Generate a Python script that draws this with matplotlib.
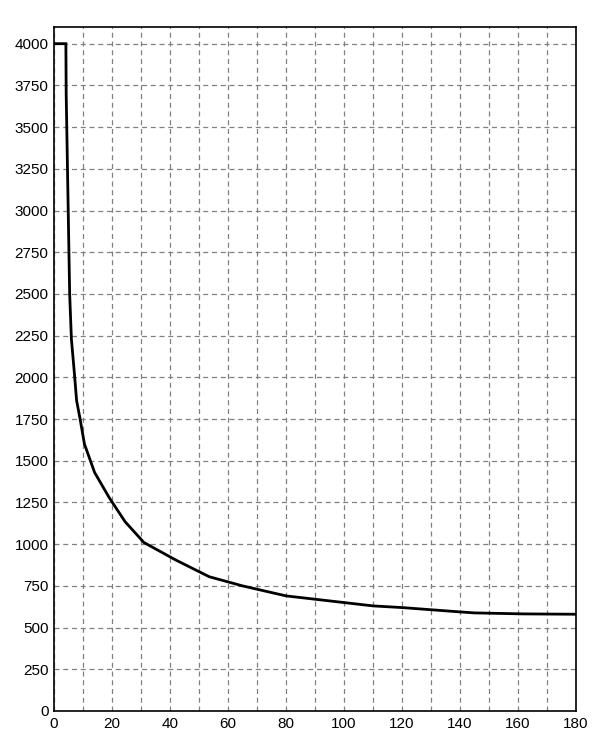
import matplotlib
matplotlib.use("Agg")
import matplotlib.pyplot as plt

x_vals = [0, 4.1, 4.2, 4.8, 5.4, 6.0, 7.0, 7.8, 9.0, 10.5, 14.0, 19.0, 24.5, 31.0,
          42.0, 53.5, 65.0, 80.0, 95.0, 110.0, 120.0, 130.0, 140.0, 145.0, 162.0, 180.0]
y_vals = [4000, 4000, 3700, 3100, 2500, 2230, 2030, 1860, 1750, 1600, 1430, 1280, 1135, 1010,
          905, 805, 750, 690, 660, 630, 620, 607, 594, 588, 582, 580]

x_ticks = [0, 20, 40, 60, 80, 100, 120, 140, 160, 180]
y_ticks = [0, 250, 500, 750, 1000, 1250, 1500, 1750, 2000, 2250, 2500, 2750,
           3000, 3250, 3500, 3750, 4000]

plt.rcParams['font.family'] = ['Liberation Sans', 'DejaVu Sans']
fig = plt.figure(figsize=(6, 7.5), dpi=100)
ax = fig.add_axes([54/600, 39/750, 522/600, 684/750])
ax.plot(x_vals, y_vals, color='black', lw=2.0, solid_joinstyle='miter')
ax.set_xlim(0, 180)
ax.set_ylim(0, 4100)
ax.set_xticks(x_ticks)
ax.set_xticks(range(0, 181, 10), minor=True)
ax.set_yticks(y_ticks)
ax.grid(True, which='both', color='#808080', linestyle=(0, (4, 3)), lw=0.9)
ax.tick_params(which='both', length=0, labelsize=11, pad=4)
for s in ax.spines.values():
    s.set_color('black')
    s.set_linewidth(1.2)
fig.savefig('out.png', dpi=100)
